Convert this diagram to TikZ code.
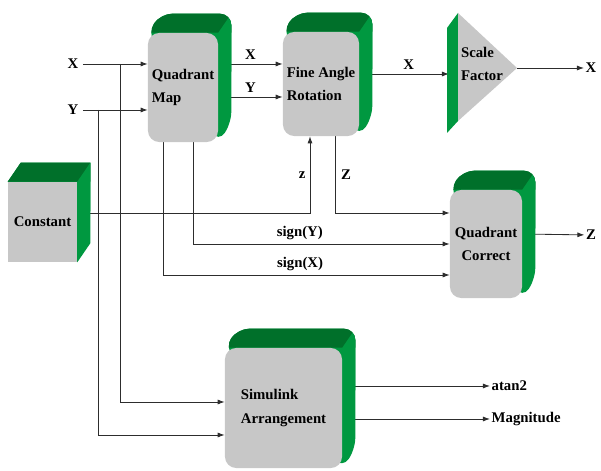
\documentclass[tikz,border=0pt]{standalone}
\usepackage{fontspec}
\setmainfont{Liberation Serif}
\usetikzlibrary{arrows.meta, positioning, calc}
\definecolor{boxgray}{RGB}{199, 199, 199}
\definecolor{topgreen}{RGB}{0, 112, 42}
\definecolor{sidegreen}{RGB}{0, 152, 64}
\definecolor{wire}{RGB}{45, 45, 45}

\pgfdeclarelayer{wires}
\pgfdeclarelayer{back}
\pgfsetlayers{wires,back,main}

\tikzset{
  block/.style={fill=boxgray, rounded corners=8pt, inner sep=0pt, align=left,
    font=\bfseries\fontsize{10.5}{17}\selectfont},
  sig/.style={draw=wire, line width=0.6pt, -{Latex[length=5pt,width=3.6pt]}},
  lbl/.style={font=\bfseries\fontsize{10.5}{12}\selectfont, inner sep=1pt},
}

% green back of a block: #1 corner style, #2 node name
\newcommand{\extrude}[2][rounded corners=8pt]{%
  \begin{pgfonlayer}{back}
    \begin{scope}
      \clip[#1] (#2.north west) -- ([shift={(13,-19)}]#2.north west)
        -- ([shift={(13,-19)}]#2.north east) -- ([shift={(13,-19)}]#2.south east)
        -- (#2.south east) -- cycle;
      \fill[sidegreen] ([shift={(-5,-30)}]#2.north west) rectangle ([shift={(30,10)}]#2.south east);
      \fill[topgreen] (#2.north west) -- ([shift={(13,-19)}]#2.north west)
        -- ([shift={(40,-19)}]#2.north east) -- ([shift={(20,0)}]#2.north east)
        -- (#2.north east) -- cycle;
      \fill[sidegreen] (#2.north east) -- ([shift={(13,-19)}]#2.north east)
        -- ([shift={(40,-19)}]#2.north east) -- ([shift={(40,10)}]#2.south east) -- cycle;
    \end{scope}
  \end{pgfonlayer}}

\begin{document}
\begin{tikzpicture}[x=0.025cm, y=-0.025cm]
  \useasboundingbox (0,0) rectangle (601,471);

  % blocks
  \node[block, minimum width=1.75cm, minimum height=2.725cm] (qm) at (183,87.5) {Quadrant\\Map};
  \node[block, minimum width=1.9cm, minimum height=2.6cm] (far) at (321,84) {Fine Angle\\Rotation};
  \node[block, align=center, minimum width=1.8cm, minimum height=2.7cm] (qc) at (486,244) {Quadrant\\Correct};
  \node[block, minimum width=2.925cm, minimum height=3cm] (sa) at (283.5,408) {Simulink\\Arrangement};
  \node[block, sharp corners, minimum width=1.725cm, minimum height=2cm] (const) at (42.5,222) {Constant};
  \extrude{qm}
  \extrude{far}
  \extrude{qc}
  \extrude{sa}
  \extrude[sharp corners]{const}

  % scale factor
  \coordinate (sftop) at (458,13);
  \coordinate (sfbot) at (458,121);
  \coordinate (sftip) at (517,68);
  \coordinate (sfin) at (449,74);
  \fill[sidegreen] (447,28) -- (sftop) -- (sfbot) -- (447,133) -- cycle;
  \fill[boxgray] (sftop) -- (sftip) -- (sfbot) -- cycle;
  \node[lbl, align=left, font=\bfseries\fontsize{10.5}{17}\selectfont] (sf) at (482,64) {Scale\\Factor};

  % ports
  \node[lbl, inner sep=3pt] (xin) at (73,64) {X};
  \node[lbl, inner sep=3pt] (yin) at (73,110) {Y};
  \node[lbl] (xout) at (591,68) {X};
  \node[lbl] (zout) at (591,235) {Z};
  \node[lbl, anchor=west] (atan) at (490,386) {atan2};
  \node[lbl, anchor=west] (mag) at (490,419) {Magnitude};
  \coordinate (xb) at (120,64);
  \coordinate (yb) at (98,110);

  \begin{pgfonlayer}{wires}
    \draw[sig] (xin) -- (xin -| qm.west);
    \draw[sig] (yin) -- (yin -| qm.west);
    \draw[sig] (xb) |- (sa.west |- 0,402);
    \draw[sig] (yb) |- (sa.west |- 0,435);
    \draw[sig] (qm.east |- xin) -- (far.west |- xin) node[lbl, midway, above=2pt] {X};
    \draw[sig] (qm.east |- 0,97) -- (far.west |- 0,97) node[lbl, midway, above=2pt] {Y};
    \draw[sig] (far.east |- sfin) -- (sfin) node[lbl, pos=0.55, above=2pt] {X};
    \draw[sig] (sftip) -- (xout);
    \draw[sig] (qm.south -| 193,0) |- (qc.west |- 0,244) node[lbl, pos=0.708, above=2pt] {sign(Y)};
    \draw[sig] (qm.south -| 163,0) |- (qc.west |- 0,275) node[lbl, pos=0.739, above=2pt] {sign(X)};
    \draw[sig] (const.east |- 0,213) -| (far.south -| 310,0) node[lbl, pos=0.75, left=2pt] {z};
    \draw[sig] (far.south -| 335,0) |- (qc.west |- 0,213) node[lbl, pos=0.25, right=3pt] {Z};
    \draw[sig] (qc.east |- 0,234) -- (zout);
    \draw[sig] (sa.east |- atan) -- (atan);
    \draw[sig] (sa.east |- mag) -- (mag);
  \end{pgfonlayer}
\end{tikzpicture}
\end{document}
